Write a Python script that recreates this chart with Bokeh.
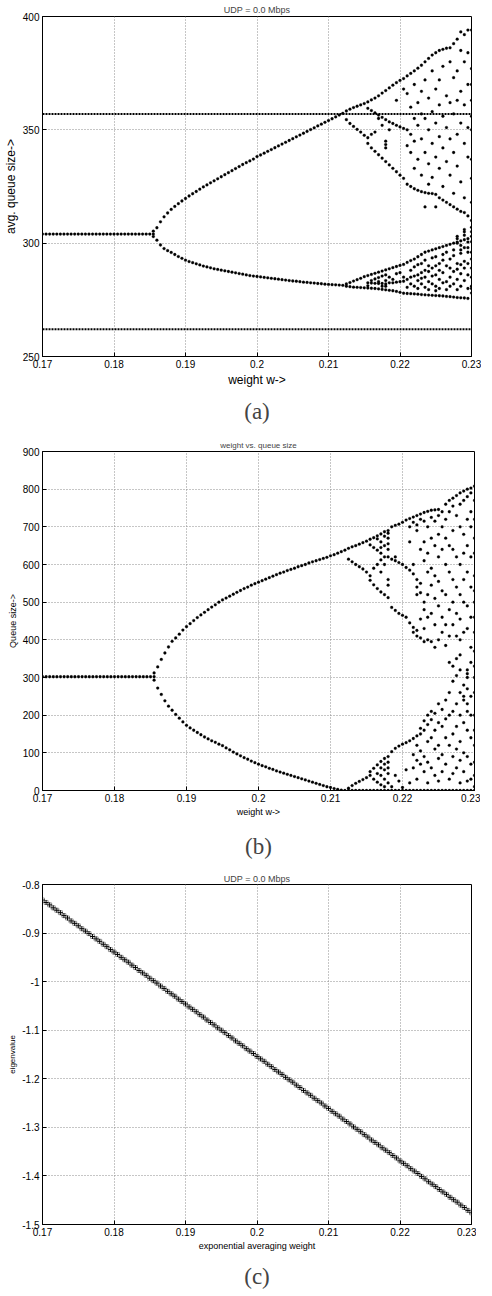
import numpy as np
from bokeh.plotting import figure
from bokeh.layouts import column
from bokeh.models import FixedTicker, PrintfTickFormatter, Title
from bokeh.embed import file_html
from bokeh.resources import INLINE

# ---------------- data ----------------
x_ticks = [0.17, 0.18, 0.19, 0.2, 0.21, 0.22, 0.23]
a_yticks = [250, 300, 350, 400]
b_yticks = [0, 100, 200, 300, 400, 500, 600, 700, 800, 900]
c_yticks = [-1.5, -1.4, -1.3, -1.2, -1.1, -1.0, -0.9, -0.8]

# sweep of the averaging weight (0.17 : 0.0005 : 0.23)
w_grid = list(np.round(np.arange(0.17, 0.23001, 0.0005), 4))
w_flat = w_grid[:32]        # 0.170 .. 0.1855
w_branch = w_grid[32:85]    # 0.186 .. 0.212
w_chaos = w_grid[85:]       # 0.2125 .. 0.230

# (a) average queue size
a_flat = [304.0] * 32
a_fork_w = [0.1855, 0.1855]
a_fork_v = [305.3, 302.9]
a_upper = [306.8, 309.4, 311.6, 313.3, 314.9, 316.2, 317.4, 318.6, 319.7, 320.8,
           321.8, 322.8, 323.8, 324.8, 325.7, 326.6, 327.5, 328.4, 329.3, 330.2,
           331.1, 332.0, 332.9, 333.8, 334.7, 335.5, 336.3, 337.1, 338.2, 338.9,
           339.7, 340.5, 341.3, 342.1, 342.9, 343.7, 344.5, 345.3, 346.1, 346.9,
           347.7, 348.5, 349.3, 350.1, 350.9, 351.7, 352.5, 353.3, 354.1, 354.9,
           355.7, 356.5, 357.3]
a_lower = [301.3, 299.2, 297.6, 296.7, 295.9, 295.0, 294.1, 293.3, 292.5, 291.9,
           291.4, 290.9, 290.4, 289.9, 289.5, 289.1, 288.7, 288.4, 288.1, 287.8,
           287.5, 287.2, 286.9, 286.6, 286.3, 286.0, 285.7, 285.5, 285.3, 285.1,
           284.9, 284.7, 284.5, 284.3, 284.1, 283.9, 283.7, 283.5, 283.3, 283.2,
           283.0, 282.8, 282.7, 282.5, 282.4, 282.2, 282.1, 281.9, 281.8, 281.7,
           281.6, 281.5, 281.4]
a_chaos = [
    [358.3, 354.5, 282.0, 281.0],
    [359.1, 352.8, 282.6, 280.8],
    [359.8, 351.5, 283.3, 280.6],
    [360.4, 350.2, 283.9, 280.5],
    [361.0, 349.0, 284.5, 280.4],
    [361.6, 347.6, 285.2, 280.3],
    [362.3, 359.5, 344.0, 346.5, 285.7, 282.5, 280.2, 281.2],
    [363.2, 358.5, 342.0, 348.0, 286.2, 282.4, 280.1, 283.5],
    [364.0, 357.5, 340.5, 349.0, 286.7, 282.3, 280.0, 284.2],
    [365.0, 356.5, 339.0, 355.0, 287.2, 282.2, 279.8, 284.8, 283.0],
    [366.2, 355.5, 337.5, 352.0, 287.7, 282.2, 279.6, 285.5, 281.0],
    [367.3, 354.5, 336.0, 345.0, 343.5, 342.0, 288.2, 283.5, 279.4, 281.0, 282.0, 286.0],
    [368.5, 353.5, 334.5, 350.0, 288.7, 282.5, 279.2, 285.0],
    [369.7, 352.8, 333.0, 289.2, 282.5, 279.0, 284.0],
    [370.8, 352.0, 331.5, 363.0, 289.7, 282.8, 278.7, 286.5],
    [371.8, 351.3, 330.0, 290.2, 283.0, 278.3, 287.0],
    [372.6, 350.6, 328.6, 368.0, 290.6, 283.2, 277.9, 285.0],
    [373.8, 366.0, 350.0, 326.0, 343.0, 291.5, 284.0, 277.8, 280.5],
    [374.9, 360.0, 348.0, 325.0, 340.0, 292.3, 285.0, 277.7, 282.0, 288.0],
    [376.0, 370.0, 355.0, 345.0, 324.0, 333.0, 293.0, 285.5, 277.6, 281.0, 289.5],
    [377.2, 362.0, 352.0, 337.0, 323.3, 294.0, 286.0, 277.5, 283.5, 290.5, 280.0],
    [378.5, 367.0, 357.0, 346.0, 330.0, 322.7, 295.0, 287.0, 277.3, 282.0, 291.0, 284.5],
    [380.0, 372.0, 355.0, 340.0, 322.3, 316.0, 296.0, 288.0, 277.2, 280.5, 285.0, 292.5],
    [381.5, 364.0, 350.0, 335.0, 322.0, 326.0, 296.5, 287.5, 277.1, 283.0, 290.0, 279.5],
    [383.0, 376.0, 358.0, 344.0, 321.9, 329.0, 297.0, 289.0, 277.0, 282.0, 293.5, 285.5],
    [384.0, 368.0, 353.0, 338.0, 321.5, 316.0, 297.5, 290.0, 276.9, 281.0, 286.0, 294.0, 279.0],
    [385.0, 372.0, 361.0, 347.0, 333.0, 320.0, 298.0, 291.0, 276.8, 284.0, 288.0, 280.0],
    [385.5, 378.0, 356.0, 342.0, 325.0, 319.0, 298.5, 292.5, 276.7, 282.5, 287.0, 295.0],
    [386.0, 365.0, 351.0, 336.0, 318.0, 299.0, 290.0, 276.5, 283.0, 279.5, 296.0],
    [386.2, 380.0, 362.0, 346.0, 330.0, 317.0, 299.5, 293.0, 276.4, 285.0, 289.0, 281.0],
    [388.0, 373.0, 357.0, 340.0, 322.0, 316.0, 300.0, 294.5, 276.2, 282.0, 287.5, 297.0],
    [390.0, 376.0, 363.0, 348.0, 334.0, 315.0, 300.5, 291.0, 276.0, 279.5, 284.0, 288.5, 303.0, 302.0, 300.0],
    [393.2, 385.0, 367.0, 353.0, 327.0, 314.0, 301.0, 295.5, 275.9, 281.0, 286.5, 290.5, 299.0, 297.0],
    [392.0, 380.0, 361.0, 344.0, 320.0, 313.5, 301.5, 298.0, 275.8, 283.5, 289.0, 292.0, 303.5, 306.0, 305.0],
    [394.0, 384.0, 370.0, 351.0, 338.0, 312.0, 302.0, 296.0, 275.6, 280.0, 286.0, 291.0, 298.0, 300.5],
    [394.0, 377.0, 370.0, 363.0, 356.0, 350.0, 337.0, 328.6, 318.0, 310.0, 307.0, 305.0,
     303.0, 300.6, 296.0, 293.0, 289.0, 285.0, 281.0, 280.0, 278.0],
]
a_hline_hi = [357.0, 357.0]
a_hline_lo = [262.0, 262.0]
a_hline_w = [0.17, 0.23]

# (b) instantaneous queue size
b_flat = [302.0] * 32
b_fork_w = [0.1855, 0.1855]
b_fork_v = [312.0, 293.0]
b_upper = [328, 348, 365, 381, 396, 405, 415, 426, 435, 443,
           451, 459, 466, 473, 480, 487, 493, 500, 506, 511,
           516, 521, 526, 531, 536, 540, 545, 549, 553, 557,
           561, 565, 569, 573, 577, 580, 584, 587, 590, 594,
           597, 600, 604, 607, 610, 613, 616, 619, 623, 626,
           630, 634, 638]
b_lower = [272, 255, 238, 224, 213, 202, 192, 182, 173, 166,
           160, 154, 148, 142, 137, 132, 128, 123, 119, 113,
           108, 102, 97, 92, 87, 83, 78, 74, 70, 66,
           63, 59, 56, 52, 49, 46, 43, 40, 37, 34,
           31, 28, 25, 22, 19, 16, 13, 10, 8, 5,
           3, 1, 0]
b_floor = [0.0] * 36
b_chaos = [
    [643, 614, 6],
    [647, 607, 13],
    [650, 600, 19],
    [654, 594, 24],
    [658, 588, 29],
    [662, 580, 34],
    [667, 652, 558, 570, 50, 40],
    [671, 645, 546, 590, 59, 30],
    [676, 668, 638, 536, 600, 68, 22, 45],
    [681, 660, 630, 645, 527, 612, 580, 77, 15, 60, 40],
    [687, 675, 650, 620, 600, 520, 85, 55, 10, 70, 30],
    [690, 683, 670, 655, 640, 620, 512, 545, 560, 90, 75, 60, 45, 20],
    [700, 614, 486, 103, 10],
    [704, 610, 620, 478, 112, 40],
    [707, 605, 470, 118, 25],
    [712, 600, 465, 123, 8],
    [718, 592, 460, 127, 55],
    [722, 700, 585, 445, 660, 132, 20],
    [726, 712, 575, 600, 433, 420, 138, 60, 95],
    [730, 705, 690, 560, 540, 520, 425, 410, 145, 120, 80, 30],
    [734, 720, 640, 550, 525, 405, 455, 150, 165, 105, 70],
    [738, 715, 660, 610, 500, 395, 430, 480, 160, 185, 90, 50],
    [741, 700, 630, 580, 520, 400, 460, 175, 200, 130, 75, 20],
    [744, 725, 670, 590, 545, 470, 395, 188, 210, 140, 60],
    [745, 715, 650, 570, 510, 440, 380, 205, 160, 110, 40],
    [746, 730, 680, 620, 555, 490, 400, 230, 180, 120, 85, 25],
    [740, 700, 640, 530, 460, 420, 215, 170, 95, 50],
    [760, 720, 670, 600, 520, 440, 385, 240, 190, 140, 70],
    [770, 740, 650, 580, 480, 410, 340, 260, 200, 120, 30],
    [776, 755, 690, 640, 560, 500, 440, 330, 290, 210, 150, 90, 45],
    [783, 730, 620, 540, 470, 410, 350, 305, 230, 170, 110, 60],
    [790, 760, 700, 600, 520, 455, 400, 360, 320, 260, 200, 130, 80, 20],
    [795, 770, 680, 630, 560, 500, 420, 280, 250, 240, 180, 100, 50],
    [800, 780, 720, 650, 580, 490, 430, 300, 310, 320, 270, 230, 210, 160, 90, 25],
    [803, 790, 740, 700, 620, 540, 460, 380, 340, 250, 200, 140, 70, 30],
    [808, 770, 720, 670, 630, 570, 530, 500, 460, 420, 370, 330, 300, 260, 200,
     160, 120, 75, 40, 10],
]

# (c) eigenvalue vs exponential averaging weight
c_eig = [-0.832, -0.837, -0.842, -0.848, -0.853, -0.858, -0.864, -0.869, -0.875, -0.880,
         -0.885, -0.891, -0.896, -0.901, -0.907, -0.912, -0.917, -0.923, -0.928, -0.934,
         -0.939, -0.944, -0.950, -0.955, -0.960, -0.966, -0.971, -0.977, -0.982, -0.987,
         -0.993, -0.998, -1.003, -1.009, -1.014, -1.020, -1.025, -1.030, -1.036, -1.041,
         -1.046, -1.052, -1.057, -1.062, -1.068, -1.073, -1.079, -1.084, -1.089, -1.095,
         -1.100, -1.105, -1.111, -1.116, -1.122, -1.127, -1.132, -1.138, -1.143, -1.148,
         -1.154, -1.159, -1.164, -1.170, -1.175, -1.181, -1.186, -1.191, -1.197, -1.202,
         -1.207, -1.213, -1.218, -1.224, -1.229, -1.234, -1.240, -1.245, -1.250, -1.256,
         -1.261, -1.267, -1.272, -1.277, -1.283, -1.288, -1.293, -1.299, -1.304, -1.309,
         -1.315, -1.320, -1.326, -1.331, -1.336, -1.342, -1.347, -1.352, -1.358, -1.363,
         -1.369, -1.374, -1.379, -1.385, -1.390, -1.395, -1.401, -1.406, -1.412, -1.417,
         -1.422, -1.428, -1.433, -1.438, -1.444, -1.449, -1.454, -1.460, -1.465, -1.471,
         -1.476]

# ---------------- styling helpers ----------------
SANS = "Liberation Sans"
SERIF = "Liberation Serif"


def base_fig(frame_w, frame_h, y_range, yticks, title, title_size, title_standoff,
             border, label_sizes):
    left, right, top, bottom = border
    p = figure(frame_width=frame_w, frame_height=frame_h,
               x_range=(0.17, 0.23), y_range=y_range,
               output_backend="svg", toolbar_location=None,
               min_border_left=left, min_border_right=right,
               min_border_top=top, min_border_bottom=bottom)
    p.title.text = title
    p.title.align = "center"
    p.title.text_font = SANS
    p.title.text_font_size = title_size
    p.title.text_font_style = "normal"
    p.title.standoff = title_standoff
    p.outline_line_color = "black"
    p.outline_line_alpha = 1
    p.background_fill_color = "white"
    p.border_fill_color = "white"
    tick_size, xlab_size, ylab_size = label_sizes
    for ax in (p.xaxis[0], p.yaxis[0]):
        ax.axis_line_color = "black"
        ax.major_tick_in = 4
        ax.major_tick_out = 0
        ax.minor_tick_line_color = None
        ax.major_tick_line_color = "black"
        ax.major_label_text_font = SANS
        ax.major_label_text_font_size = tick_size
        ax.major_label_text_color = "black"
        ax.axis_label_text_font = SANS
        ax.axis_label_text_font_style = "normal"
        ax.axis_label_text_color = "black"
        ax.major_label_standoff = 3
        ax.axis_label_standoff = 2
        ax.formatter = PrintfTickFormatter(format="%g")
    p.xaxis[0].ticker = FixedTicker(ticks=x_ticks)
    p.yaxis[0].ticker = FixedTicker(ticks=yticks)
    p.xaxis[0].axis_label_text_font_size = xlab_size
    p.yaxis[0].axis_label_text_font_size = ylab_size
    for g in (p.xgrid[0], p.ygrid[0]):
        g.grid_line_color = "#8c8c8c"
        g.grid_line_dash = "1 2"
        g.grid_line_width = 1
    p.xgrid[0].ticker = FixedTicker(ticks=x_ticks)
    p.ygrid[0].ticker = FixedTicker(ticks=yticks)
    return p


def caption(p, text, standoff):
    t = Title(text=text, align="center", text_font=SERIF, text_font_size="23px",
              text_font_style="normal", standoff=standoff)
    p.add_layout(t, "below")


def flatten(ws, cols):
    xs, ys = [], []
    for w, vs in zip(ws, cols):
        for v in vs:
            xs.append(w)
            ys.append(v)
    return xs, ys


DOT = dict(marker="circle", size=2.8, fill_color="black", line_color="black", line_width=0.3)

# ---------------- (a) ----------------
pa = base_fig(429, 340, (250, 400), a_yticks, "UDP = 0.0 Mbps", "9px", 4,
              (37, 10, 14, 60), ("10px", "12px", "12px"))
pa.xaxis[0].axis_label = "weight w->"
pa.yaxis[0].axis_label = "avg. queue size->"
pa.line(a_hline_w, a_hline_hi, line_color="black", line_width=2, line_dash="2 1")
pa.line(a_hline_w, a_hline_lo, line_color="black", line_width=2, line_dash="2 1")
pa.scatter(w_flat, a_flat, **DOT)
pa.scatter(a_fork_w, a_fork_v, **DOT)
pa.scatter(w_branch, a_upper, **DOT)
pa.scatter(w_branch, a_lower, **DOT)
ax_, ay_ = flatten(w_chaos, a_chaos)
pa.scatter(ax_, ay_, **DOT)
caption(pa, "(a)", 14)

# ---------------- (b) ----------------
pb = base_fig(432, 339, (0, 900), b_yticks, "weight vs. queue size", "8px", 4,
              (34, 10, 21, 60), ("10px", "9px", "9px"))
pb.xaxis[0].axis_label = "weight w->"
pb.yaxis[0].axis_label = "Queue size->"
pb.scatter(w_flat, b_flat, **DOT)
pb.scatter(b_fork_w, b_fork_v, **DOT)
pb.scatter(w_branch, b_upper, **DOT)
pb.scatter(w_branch, b_lower, **DOT)
pb.scatter(w_chaos, b_floor, **DOT)
bx_, by_ = flatten(w_chaos, b_chaos)
pb.scatter(bx_, by_, **DOT)
caption(pb, "(b)", 25)

# ---------------- (c) ----------------
pc = base_fig(429, 340, (-1.5, -0.8), c_yticks, "UDP = 0.0 Mbps", "9px", 1,
              (37, 10, 8, 50), ("10px", "9px", "8px"))
pc.xaxis[0].axis_label = "exponential averaging weight"
pc.yaxis[0].axis_label = "eigenvalue"
pc.scatter(w_grid, c_eig, marker="square", size=4, fill_color=None,
           line_color="#808080", line_width=0.8)
pc.scatter(w_grid, c_eig, marker="cross", size=5, line_color="black", line_width=1)
caption(pc, "(c)", 16)

layout = column(pa, pb, pc, spacing=0)
open("out.html", "w").write(file_html(layout, INLINE))
